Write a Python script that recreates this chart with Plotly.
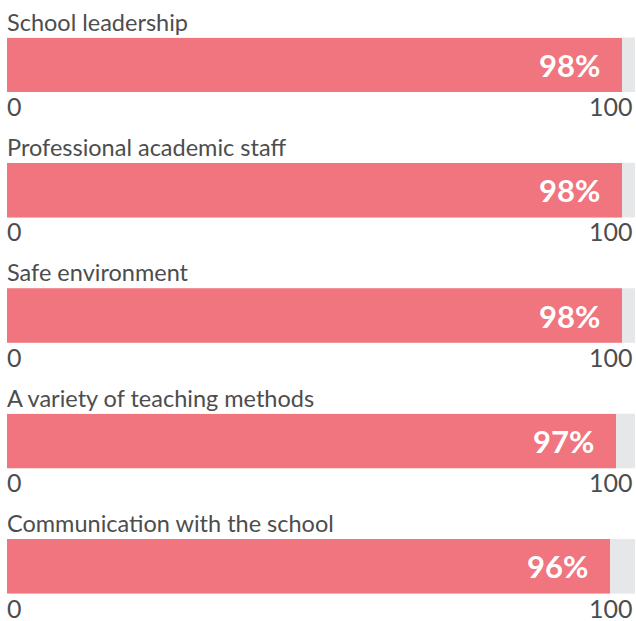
import plotly.graph_objects as go

categories = [
    "School leadership",
    "Professional academic staff",
    "Safe environment",
    "A variety of teaching methods",
    "Communication with the school",
]
values = [98, 98, 98, 97, 96]
value_labels = ["98%", "98%", "98%", "97%", "96%"]
axis_min = 0
axis_max = 100
tick_labels = ["0", "100"]

W, H = 636, 621
BAR_COLOR = "#F0757E"
BG_COLOR = "#E6E7E8"
TEXT_COLOR = "#4D4D4D"
FONT = "Lato, 'Open Sans', sans-serif"

first_top = 37.5
step = 125.4
bar_h = 54.5


def py(px):
    return 1 - px / H


fig = go.Figure()
annotations = []
layout_axes = {}
for i, (cat, val, lab) in enumerate(zip(categories, values, value_labels)):
    n = i + 1
    xa = "x" if n == 1 else f"x{n}"
    ya = "y" if n == 1 else f"y{n}"
    top = first_top + i * step
    bot = top + bar_h
    fig.add_trace(go.Bar(
        x=[val], y=[0], orientation="h", xaxis=xa, yaxis=ya,
        marker=dict(color=BAR_COLOR, line=dict(width=0)),
        width=1, hoverinfo="skip", showlegend=False,
    ))
    layout_axes[f"xaxis{'' if n == 1 else n}"] = dict(
        domain=[0, 1], range=[axis_min, axis_max], anchor=ya,
        showgrid=False, zeroline=False, showticklabels=False, fixedrange=True,
    )
    layout_axes[f"yaxis{'' if n == 1 else n}"] = dict(
        domain=[py(bot), py(top)], range=[-0.5, 0.5], anchor=xa,
        showgrid=False, zeroline=False, showticklabels=False, fixedrange=True,
    )
    # category title
    annotations.append(dict(
        text=cat, xref="paper", yref="paper", x=0, y=py(top - 16),
        xanchor="left", yanchor="middle", showarrow=False, xshift=-2,
        font=dict(family=FONT, size=23.5, color=TEXT_COLOR),
    ))
    # value label
    annotations.append(dict(
        text=f"<b>{lab}</b>", xref=xa, yref=ya, x=val, y=0,
        xanchor="right", yanchor="middle", xshift=-20, showarrow=False,
        font=dict(family=FONT, size=31, color="white"),
    ))
    # axis labels
    annotations.append(dict(
        text=tick_labels[0], xref=xa, yref="paper", x=axis_min, y=py(bot + 14),
        xanchor="left", yanchor="middle", showarrow=False, xshift=-2,
        font=dict(family=FONT, size=25, color=TEXT_COLOR),
    ))
    annotations.append(dict(
        text=tick_labels[1], xref=xa, yref="paper", x=axis_max, y=py(bot + 14),
        xanchor="right", yanchor="middle", showarrow=False,
        font=dict(family=FONT, size=25, color=TEXT_COLOR),
    ))

fig.update_layout(
    width=W, height=H,
    margin=dict(l=7, r=1, t=0, b=0),
    paper_bgcolor="white", plot_bgcolor=BG_COLOR,
    bargap=0, annotations=annotations,
    font=dict(family=FONT),
    **layout_axes,
)
fig.write_html(
    "out.html",
    config={"displayModeBar": False},
    post_script="document.body.style.margin='0';document.body.style.padding='0';",
)
